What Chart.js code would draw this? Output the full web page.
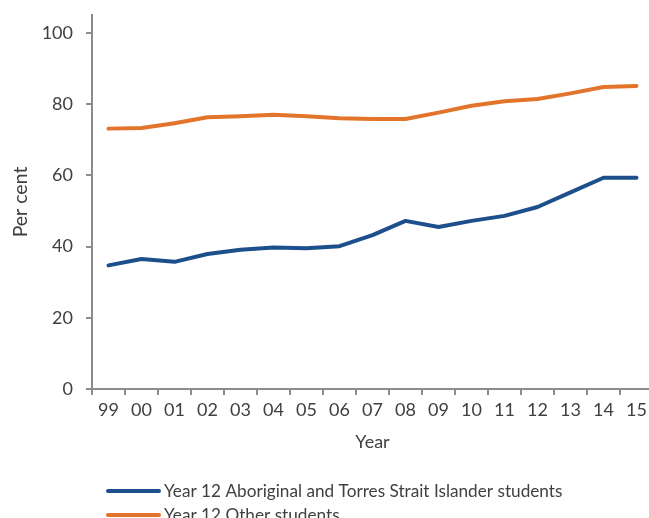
<!DOCTYPE html>
<html>
<head>
<meta charset="utf-8">
<script src="https://cdn.jsdelivr.net/npm/chart.js@4/dist/chart.umd.min.js"></script>
<style>
html,body{margin:0;padding:0;overflow:hidden;background:#fff;}
canvas{display:block;}
</style>
</head>
<body>
<canvas id="c" width="660" height="518"></canvas>
<script>
// ---- data ----
const years = ['99','00','01','02','03','04','05','06','07','08','09','10','11','12','13','14','15'];
const indigenousStudents = [34.7,36.5,35.7,37.9,39.1,39.7,39.5,40.1,43.2,47.2,45.5,47.2,48.6,51.1,55.2,59.3,59.3];
const otherStudents = [73.1,73.3,74.6,76.3,76.6,77.0,76.6,76.0,75.8,75.8,77.6,79.5,80.8,81.4,83.0,84.8,85.1];
const seriesLabels = ['Year 12 Aboriginal and Torres Strait Islander students','Year 12 Other students'];
const seriesColors = ['#1d4f8c','#e2752b'];
const yTickValues = [0,20,40,60,80,100];
const xTitle = 'Year';
const yTitle = 'Per cent';

const FONT = 'Lato, "Open Sans", sans-serif';
const TEXT = '#404040';
const AXIS = '#8c8c8c';

const legendPlugin = {
  id: 'stackedLegend',
  afterDraw(chart) {
    const ctx = chart.ctx;
    ctx.save();
    chart.data.datasets.forEach((ds, i) => {
      const y = 491 + i * 24;
      ctx.strokeStyle = ds.borderColor;
      ctx.lineWidth = 4;
      ctx.lineCap = 'round';
      ctx.beginPath();
      ctx.moveTo(108, y);
      ctx.lineTo(159, y);
      ctx.stroke();
      ctx.fillStyle = TEXT;
      ctx.font = '17.2px ' + FONT;
      ctx.textBaseline = 'middle';
      ctx.textAlign = 'left';
      ctx.fillText(ds.label, 164, y);
    });
    ctx.restore();
  }
};

new Chart(document.getElementById('c'), {
  type: 'line',
  data: {
    labels: years,
    datasets: [
      { label: seriesLabels[0], data: indigenousStudents, borderColor: seriesColors[0], backgroundColor: seriesColors[0], borderWidth: 4, pointRadius: 0, tension: 0, borderCapStyle: 'round', borderJoinStyle: 'round' },
      { label: seriesLabels[1], data: otherStudents, borderColor: seriesColors[1], backgroundColor: seriesColors[1], borderWidth: 4, pointRadius: 0, tension: 0, borderCapStyle: 'round', borderJoinStyle: 'round' }
    ]
  },
  options: {
    responsive: false,
    animation: false,
    layout: { padding: { left: 0, right: 7, top: 15, bottom: 65 } },
    plugins: { legend: { display: false }, tooltip: { enabled: false } },
    scales: {
      x: {
        offset: true,
        grid: { offset: true, drawOnChartArea: false, drawTicks: true, tickLength: 6, color: AXIS, lineWidth: 2 },
        border: { display: true, color: AXIS, width: 2 },
        ticks: { color: TEXT, font: { family: FONT, size: 18 }, padding: 4, maxRotation: 0, autoSkip: false },
        title: { display: true, text: xTitle, color: TEXT, font: { family: FONT, size: 18 }, padding: { top: 0, bottom: 0 } },
        afterFit(scale) { scale.height = 64; scale.paddingLeft = 0; scale.paddingRight = 0; }
      },
      y: {
        min: 0, max: 105,
        afterBuildTicks(scale) { scale.ticks = yTickValues.map(v => ({ value: v })); },
        grid: { drawOnChartArea: false, drawTicks: true, tickLength: 6, color: AXIS, lineWidth: 2 },
        border: { display: true, color: AXIS, width: 2 },
        ticks: { color: TEXT, font: { family: FONT, size: 18 }, padding: 13 },
        title: { display: true, text: yTitle, color: TEXT, font: { family: FONT, size: 19.5 }, padding: { top: 9, bottom: 0 } },
        afterFit(scale) { scale.width = 92; scale.paddingTop = 0; scale.paddingBottom = 0; }
      }
    }
  },
  plugins: [legendPlugin]
});
</script>
</body>
</html>
